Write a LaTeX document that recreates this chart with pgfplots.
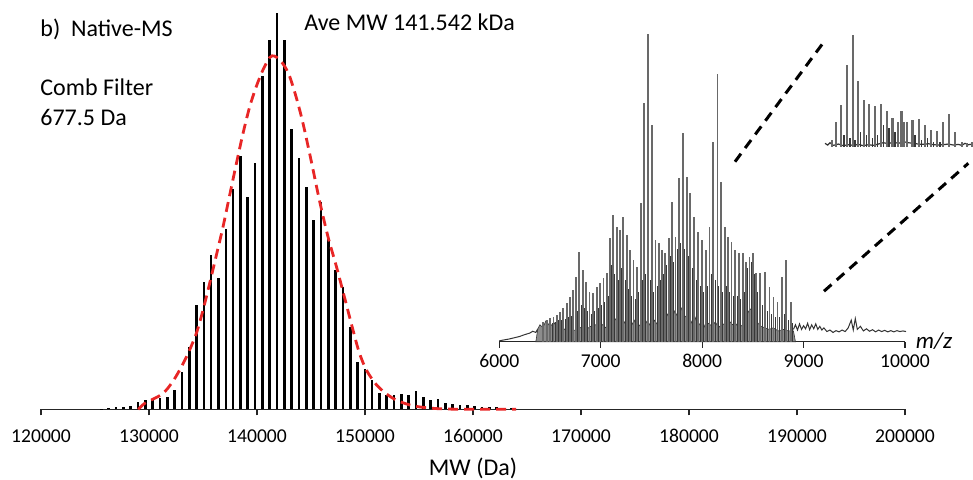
\documentclass[border=0pt]{standalone}
\usepackage{fontspec}
\setmainfont{Carlito}
\usepackage{pgfplots}
\pgfplotsset{compat=1.18}
\definecolor{fitred}{RGB}{232,38,38}
\definecolor{pkgray}{RGB}{105,105,105}
\definecolor{pkdark}{RGB}{55,55,55}
\begin{document}
\begin{tikzpicture}[x=1pt,y=1pt]
% ---------------- main deconvolved spectrum ----------------
\begin{axis}[
  at={(20.5pt,34.85pt)}, anchor=south west,
  scale only axis, width=432pt, height=198.3pt,
  xmin=120000, xmax=200000, ymin=0, ymax=100,
  axis x line=bottom, axis y line=none,
  x axis line style={-, black!85, line width=0.65pt},
  xtick={120000,130000,...,200000},
  scaled x ticks=false,
  /pgf/number format/assume math mode=true,
  xticklabel style={font=\fontsize{9.8}{11}\selectfont, /pgf/number format/fixed, /pgf/number format/1000 sep={}, anchor=base, yshift=-13.5pt},
  tick align=outside, major tick length=3pt,
  tick style={black!85, line width=0.65pt},
  xlabel={MW (Da)},
  xlabel style={font=\fontsize{12}{14}\selectfont, at={(axis description cs:0.5,0)}, anchor=base, yshift=-33.3pt},
  clip=false,
]
\addplot[ycomb, black, line width=1.3pt, mark=none] table[row sep=\\] {
x y\\
125595 0.2\\ 126272.5 0.3\\ 126950 0.5\\ 127627.5 0.6\\ 128305 0.8\\
128982.5 1.8\\ 129660 2.3\\ 130337.5 2.3\\ 131015 2.9\\ 131692.5 3.2\\
132370 4.9\\ 133047.5 9.5\\ 133725 15.8\\ 134402.5 26.3\\ 135080 32.2\\
135757.5 38.9\\ 136435 33.0\\ 137112.5 45.4\\ 137790 55.5\\ 138467.5 63.9\\
139145 53.6\\ 139822.5 62.2\\ 140500 84.0\\ 141177.5 93.1\\ 141855 100\\
142532.5 93.1\\ 143210 70.6\\ 143887.5 63.3\\ 144565 56.1\\ 145242.5 47.7\\
145920 52.3\\ 146597.5 42.9\\ 147275 35.1\\ 147952.5 30.9\\ 148630 20.7\\
149307.5 12.0\\ 149985 10.2\\ 150662.5 7.4\\ 151340 4.1\\ 152017.5 3.6\\
152695 3.6\\ 153372.5 3.9\\ 154050 3.6\\ 154727.5 4.5\\ 155405 3.0\\
156082.5 2.3\\ 156760 2.5\\ 157437.5 1.7\\ 158115 1.3\\ 158792.5 1.1\\
159470 1.1\\ 160147.5 0.8\\ 160825 0.7\\ 161502.5 0.7\\ 162180 0.5\\
162857.5 0.4\\ 163535 0.3\\
};
\addplot[fitred, line width=1.4pt, dash pattern=on 5pt off 3pt, smooth, mark=none] coordinates {
(129000,0) (129602,1.5) (130400,2.6) (131296,4.0) (132100,6.6) (132839,9.9)
(133600,14.0) (134389,19.2) (135000,25.0) (135621,31.8) (136250,39.0)
(136852,46.0) (137470,54.0) (138093,62.0) (138700,69.5) (139324,76.3)
(139950,81.5) (140556,85.6) (141176,88.7) (141600,89.1) (142102,88.1)
(142560,86.5) (143028,83.9) (143650,78.5) (144260,72.1) (145030,62.5)
(145805,52.4) (146575,43.5) (147353,36.0) (148029,29.0) (148742,21.5)
(149446,14.5) (150130,9.9) (151057,6.2) (151983,3.9) (152909,2.3)
(154141,1.1) (155067,0.6) (156500,0.2) (158000,0.05) (160000,0) (164000,0)
};
\end{axis}
% ---------------- inset m/z spectrum ----------------
\begin{axis}[
  at={(249.65pt,68.65pt)}, anchor=south west,
  scale only axis, width=202.85pt, height=153.85pt,
  xmin=6000, xmax=10000, ymin=0, ymax=100,
  axis x line=bottom, axis y line=none,
  x axis line style={-, black!85, line width=0.65pt},
  xtick={6000,7000,...,10000},
  scaled x ticks=false,
  /pgf/number format/assume math mode=true,
  xticklabel style={font=\fontsize{9.8}{11}\selectfont, /pgf/number format/fixed, /pgf/number format/1000 sep={}, anchor=base, yshift=-10pt},
  tick align=outside, major tick length=3pt,
  tick style={black!85, line width=0.65pt},
  clip=false,
]
% low-level background trace
\addplot[black!80, line width=0.5pt, mark=none] coordinates {
(6000,0.3) (6050,0.6) (6100,0.9) (6150,1.3) (6200,1.7) (6250,2.3) (6300,2.8)
(6330,3.4) (6360,3.0) (6380,4.2)
};
\addplot[fill=black!45, draw=black!80, line width=0.3pt, mark=none] coordinates {
(6360,0) (6380,4.2) (6400,5.5) (6430,4.6) (6460,6.8) (6500,5.0) (6540,6.2) (6580,4.0)
(6620,4.8) (6660,3.5) (6700,4.3) (6750,3.6) (6800,4.6) (6850,3.8) (6900,5.0)
(6950,5.5) (7000,6.0) (7050,4.5) (7080,6.5) (7100,8) (7120,6) (7150,7.5)
(7180,5.5) (7200,7) (7230,6) (7260,8) (7300,5) (7330,7) (7360,4.5) (7400,6)
(7430,5) (7460,7) (7500,4.5) (7530,7) (7560,5.5) (7600,8) (7630,6.5) (7660,9)
(7700,7) (7730,10) (7760,8) (7800,11) (7830,8) (7860,9) (7900,6)
(7930,8) (7960,5) (8000,7) (8030,4.5) (8060,6) (8100,5) (8130,6.5) (8160,4.5)
(8200,6) (8230,5) (8260,7) (8300,5.5) (8330,6) (8360,4.5) (8400,5.5) (8430,8)
(8460,10) (8490,11) (8520,9) (8550,6) (8580,5) (8620,4.5) (8660,4) (8700,4.5)
(8750,3.5) (8800,4) (8850,3.5) (8900,3.5) (8920,0)
} \closedcycle;
\addplot[black!80, line width=0.5pt, mark=none] coordinates {
(8900,4.0) (8920,5.5) (8940,3.8) (8960,5.8) (8980,4.0) (9000,5.2) (9020,4.2)
(9040,6.0) (9060,3.9) (9080,5.5) (9100,4.2) (9120,5.8) (9140,4.0) (9160,5.0)
(9180,3.8) (9200,4.5) (9230,3.3) (9260,3.8) (9290,3.0) (9320,3.6) (9350,3.2)
(9380,3.8) (9410,3.3) (9440,4.5) (9470,7.0) (9490,3.8) (9510,7.5) (9530,4.0)
(9560,5.0) (9590,3.5) (9620,4.2) (9650,3.4) (9680,3.9) (9710,3.2) (9740,3.8)
(9770,3.3) (9800,3.7) (9830,3.2) (9860,3.6) (9890,3.2) (9920,3.6) (9950,3.3)
(9980,3.5) (10010,3.3)
};
% secondary (overlapping) charge series, darker
\addplot[ycomb, pkdark, line width=0.5pt, mark=none] table[row sep=\\] {
x y\\
6440 5\\ 6480 5.5\\ 6520 6\\ 6550 6.5\\ 6580 7\\ 6615 7\\ 6648 7.5\\ 6680 8\\
6713 8.5\\ 6772 10\\ 6806 12\\ 6838 11\\ 6872 10\\ 6905 9\\ 6940 10\\ 6976 11\\
7010 12\\ 7042 13\\ 7075 15\\ 7108 25\\ 7140 22\\ 7173 20\\ 7206 24\\ 7240 20\\
7272 17\\ 7305 15\\ 7338 14\\ 7374 16\\ 7410 20\\ 7446 22\\ 7486 20\\ 7522 16\\
7555 18\\ 7588 20\\ 7620 22\\ 7653 25\\ 7686 28\\ 7720 26\\ 7752 30\\ 7788 32\\
7828 30\\ 7864 28\\ 7900 24\\ 7940 20\\ 7980 18\\ 8018 16\\ 8054 18\\ 8090 22\\
8130 20\\ 8166 18\\ 8202 16\\ 8238 18\\ 8272 16\\ 8306 15\\ 8344 15\\ 8380 14\\
8416 16\\ 8450 24\\ 8482 26\\ 8514 22\\ 8550 16\\ 8594 12\\ 8640 10\\ 8682 9\\
8722 8\\ 8765 8\\ 8808 9\\ 8850 7\\ 8890 6\\
};
% main charge series
\addplot[ycomb, pkgray, line width=0.85pt, mark=none] table[row sep=\\] {
x y\\
6434 6.5\\ 6467 7.0\\ 6500 7.6\\ 6533 8.1\\ 6566 8.7\\ 6598 9.8\\ 6631 10.8\\
6664 12.5\\ 6697 14.6\\ 6730 16.8\\ 6756 21.1\\ 6789 29.3\\ 6822 23.3\\
6855 19.5\\ 6888 16.3\\ 6921 15.7\\ 6960 17.9\\ 6993 19.0\\ 7026 20.6\\
7059 22.2\\ 7092 33.6\\ 7124 41.2\\ 7157 37.4\\ 7190 36.3\\ 7223 40.6\\
7256 34.7\\ 7289 29.8\\ 7322 26.5\\ 7355 24.4\\ 7394 45.0\\ 7427 77.5\\
7466 100\\ 7506 70.4\\ 7539 33.0\\ 7572 32.0\\ 7604 29.8\\ 7637 28.7\\
7670 33.6\\ 7703 45.5\\ 7736 34.1\\ 7769 53.1\\ 7808 67.7\\ 7848 53.6\\
7881 48.2\\ 7920 40.6\\ 7959 35.8\\ 7999 33.0\\ 8038 29.8\\ 8071 37.4\\
8110 65.0\\ 8150 87.0\\ 8183 52.0\\ 8222 37.4\\ 8255 34.1\\ 8288 32.5\\
8327 29.8\\ 8360 28.7\\ 8400 28.7\\ 8433 26.0\\ 8466 27.6\\ 8498 28.7\\
8531 22.2\\ 8571 22.2\\ 8617 22.8\\ 8663 17.9\\ 8702 14.6\\ 8742 13.0\\
8788 21.1\\ 8827 26.5\\ 8873 13.0\\
};
\end{axis}
% ---------------- zoomed region (upper right) ----------------
\begin{axis}[
  at={(412.5pt,166.15pt)}, anchor=south west,
  scale only axis, width=74.17pt, height=55.83pt,
  xmin=0, xmax=445, ymin=0, ymax=335,
  hide axis, clip=false,
]
\addplot[black!80, line width=0.6pt, mark=none] coordinates {
(0,10) (8,5) (15,12) (25,4) (40,8) (55,3) (70,6) (85,4) (100,7) (115,3)
(130,6) (145,4) (160,8) (175,12) (190,9) (205,14) (220,10) (235,15) (250,12)
(265,10) (280,8) (295,7) (310,9) (325,6) (340,5) (355,6) (370,8) (385,5)
(400,7) (410,4) (420,10) (430,6) (445,8)
};
\addplot[ycomb, pkdark, line width=0.7pt, mark=none] table[row sep=\\] {
x y\\
57 35\\ 75 25\\ 90 20\\ 107 45\\ 125 35\\ 142 25\\ 158 35\\ 175 65\\ 192 55\\
210 45\\ 228 40\\ 247 45\\ 270 35\\ 290 20\\ 308 25\\ 325 15\\ 345 15\\
};
\addplot[ycomb, pkgray, line width=1.15pt, mark=none] table[row sep=\\] {
x y\\
22 20\\ 33 75\\ 48 125\\ 65 245\\ 83 335\\ 99 197\\ 116 140\\ 133 128\\
150 123\\ 167 127\\ 185 107\\ 202 85\\ 219 73\\ 229 107\\ 236 75\\ 245 75\\
262 80\\ 281 83\\ 300 65\\ 318 50\\ 336 47\\ 354 75\\ 372 97\\ 390 45\\
410 15\\ 425 10\\ 440 13\\
};
\end{axis}
% ---------------- dashed zoom lines ----------------
\draw[black, line width=1.5pt, dash pattern=on 5pt off 3.5pt] (367.5pt,158.65pt) -- (411.65pt,218.15pt);
\draw[black, line width=1.5pt, dash pattern=on 5pt off 3.5pt] (412pt,93.9pt) -- (484.15pt,157.85pt);
% ---------------- texts ----------------
\node[anchor=base west, inner sep=0pt, font=\fontsize{12}{14}\selectfont] at (20pt,221.2pt) {b)\hspace{0.45em}Native-MS};
\node[anchor=base west, inner sep=0pt, font=\fontsize{12}{14}\selectfont] at (20pt,191.65pt) {Comb Filter};
\node[anchor=base west, inner sep=0pt, font=\fontsize{12}{14}\selectfont] at (20pt,177pt) {677.5 Da};
\node[anchor=base west, inner sep=0pt, font=\fontsize{12}{14}\selectfont] at (152pt,224.5pt) {Ave MW 141.542 kDa};
\node[inner sep=0pt, font=\fontsize{11.5}{13}\selectfont] at (467pt,69pt) {\textit{m/z}};
\pgfresetboundingbox
\path (0pt,0pt) rectangle (486.5pt,239.5pt);
\end{tikzpicture}
\end{document}
